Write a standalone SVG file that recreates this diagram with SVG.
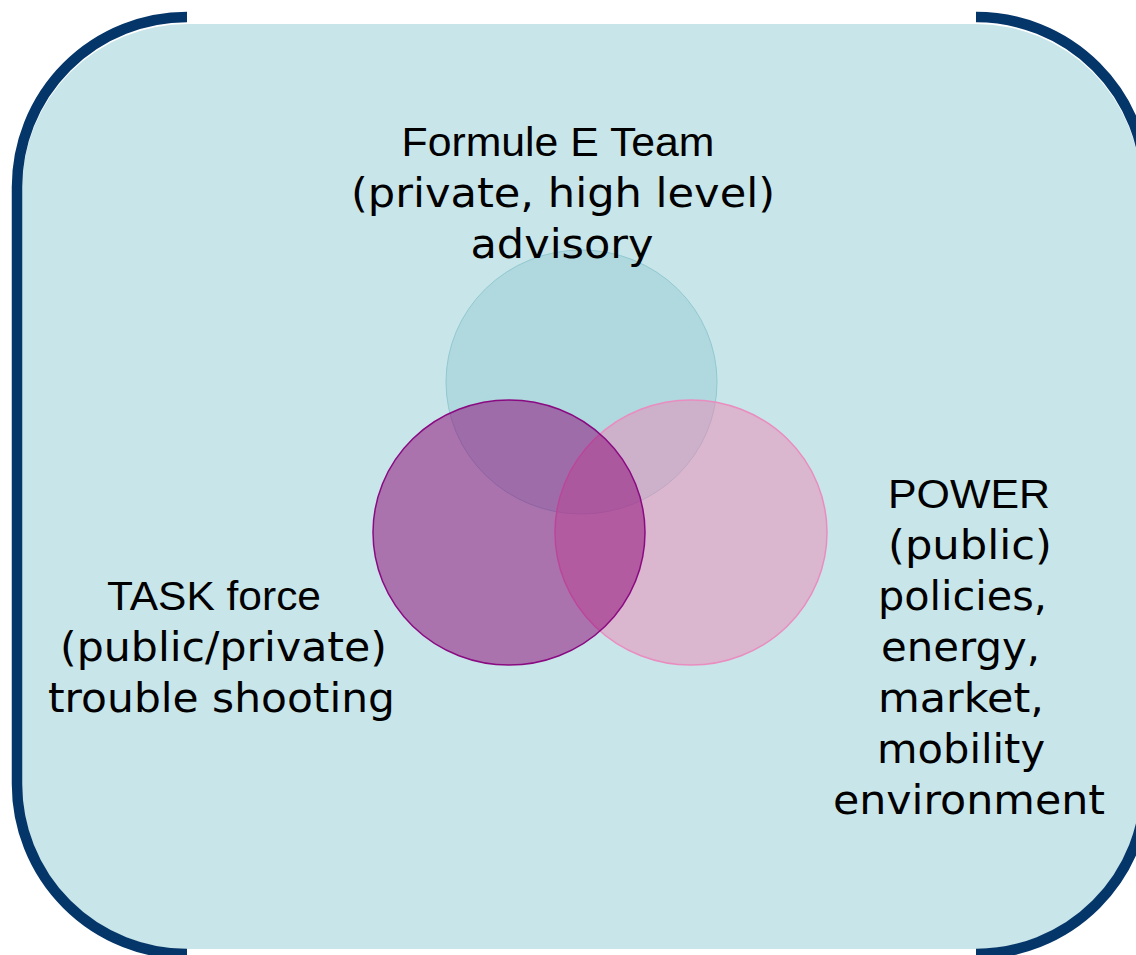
<svg xmlns="http://www.w3.org/2000/svg" width="1136" height="955" viewBox="0 0 1136 955">
  <style>
    .frame { fill: none; stroke: #05366A; stroke-width: 10.5; }
    .panel { fill: #C8E6E9; }
    .head { font-family: "Liberation Sans", Arial, sans-serif; font-size: 41px; fill: #000; text-anchor: middle; }
    .body { font-family: "DejaVu Sans", Verdana, sans-serif; font-size: 41px; fill: #000; text-anchor: middle; }
  </style>

  <!-- background panel -->
  <rect class="panel" x="22" y="24" width="1119" height="925" rx="165" ry="165"/>

  <!-- bracket-style frame: left and right sides with rounded corners -->
  <path class="frame" d="M187,17 A170,170 0 0 0 17,187 L17,784 A170,170 0 0 0 187,954"/>
  <path class="frame" d="M976,17 A170,170 0 0 1 1146,187 L1146,784 A170,170 0 0 1 976,954"/>

  <!-- Venn circles -->
  <g id="circle-formule">
    <ellipse cx="581.5" cy="382" rx="135.5" ry="132" fill="#95CBD4" fill-opacity="0.5" stroke="#92C8D0" stroke-width="1"/>
  </g>
  <g id="circle-power">
    <ellipse cx="691" cy="532.5" rx="136" ry="132.5" fill="#EB87B6" fill-opacity="0.5" stroke="#E98DC0" stroke-width="1.5"/>
  </g>
  <g id="circle-task">
    <ellipse cx="509" cy="532.5" rx="136" ry="132.5" fill="#8C0073" fill-opacity="0.5" stroke="#8A0A82" stroke-width="1.5"/>
  </g>

  <!-- labels -->
  <g id="label-formule">
    <text class="head" x="558" y="156" textLength="313" lengthAdjust="spacingAndGlyphs">Formule E Team</text>
    <text class="body" x="563" y="207" textLength="424" lengthAdjust="spacingAndGlyphs">(private, high level)</text>
    <text class="body" x="562" y="258" textLength="183" lengthAdjust="spacingAndGlyphs">advisory</text>
  </g>

  <g id="label-task">
    <text class="head" x="214" y="610" textLength="214" lengthAdjust="spacingAndGlyphs">TASK force</text>
    <text class="body" x="223.5" y="661" textLength="327" lengthAdjust="spacingAndGlyphs">(public/private)</text>
    <text class="body" x="221.5" y="712" textLength="347" lengthAdjust="spacingAndGlyphs">trouble shooting</text>
  </g>

  <g id="label-power">
    <text class="head" x="969" y="508" textLength="162" lengthAdjust="spacingAndGlyphs">POWER</text>
    <text class="body" x="970" y="559" textLength="164" lengthAdjust="spacingAndGlyphs">(public)</text>
    <text class="body" x="962.5" y="610" textLength="169" lengthAdjust="spacingAndGlyphs">policies,</text>
    <text class="body" x="960.5" y="661" textLength="159" lengthAdjust="spacingAndGlyphs">energy,</text>
    <text class="body" x="961" y="712" textLength="166" lengthAdjust="spacingAndGlyphs">market,</text>
    <text class="body" x="961" y="763" textLength="168" lengthAdjust="spacingAndGlyphs">mobility</text>
    <text class="body" x="969" y="814" textLength="272" lengthAdjust="spacingAndGlyphs">environment</text>
  </g>
</svg>
